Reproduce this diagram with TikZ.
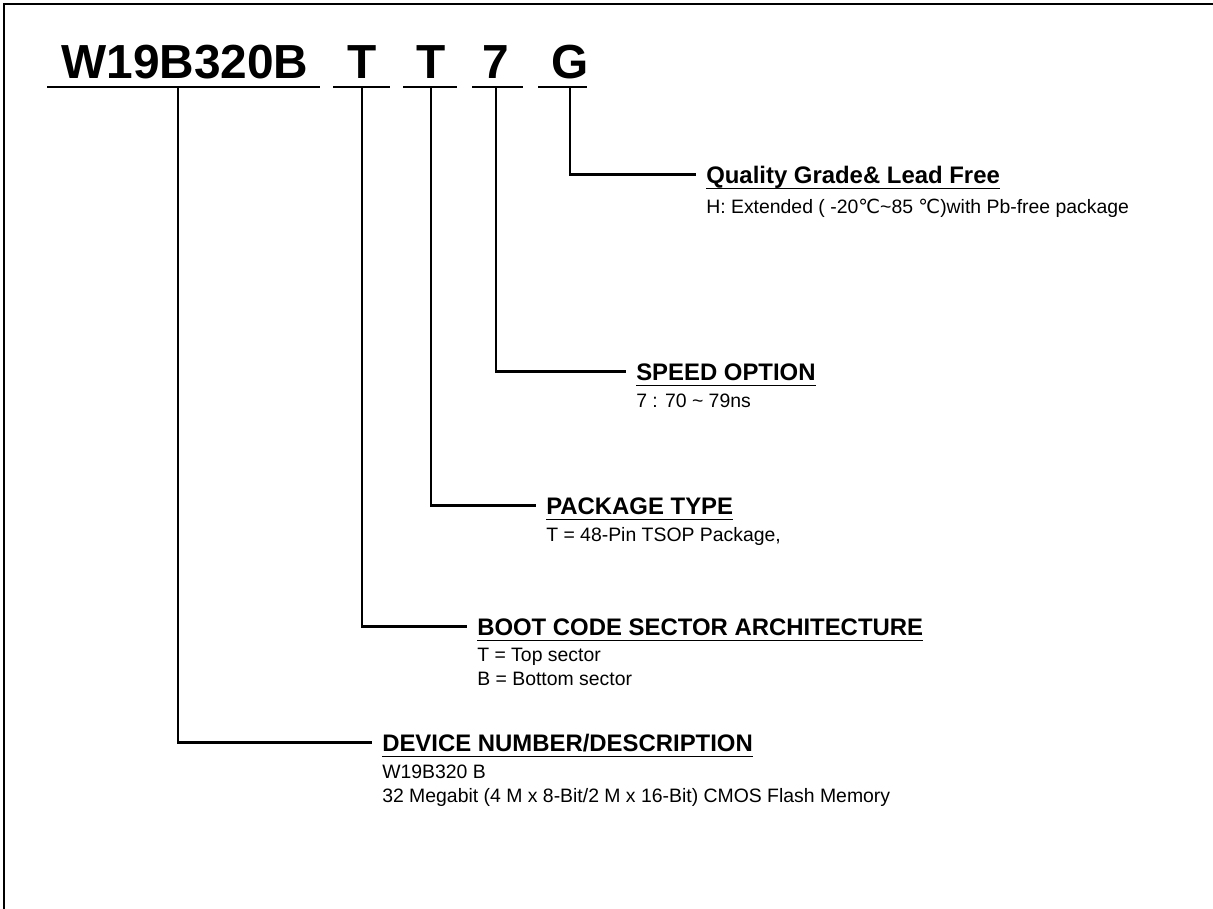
\documentclass[tikz,border=0pt]{standalone}
\usepackage{fontspec}
\setmainfont{Liberation Sans}
\newfontfamily\symfont{DejaVu Sans}
\tikzset{
  partchar/.style={font=\fontsize{34}{40}\selectfont\bfseries, anchor=base, text depth=0pt, inner xsep=0pt, inner ysep=0.225cm},
  fieldtitle/.style={font=\fontsize{17}{20}\selectfont\bfseries, anchor=base west, text depth=0pt, inner xsep=0pt, inner ysep=0.125cm},
  fielddesc/.style={font=\fontsize{13.8}{17.07}\selectfont, anchor=base west, align=left, inner sep=0pt},
  conn/.style={line width=1.8pt, line join=miter},
  uline/.style={line width=0.9pt},
}
\begin{document}
\begin{tikzpicture}[x=0.025cm, y=-0.025cm]
				\useasboundingbox (0,0) rectangle (1213,909);
				\draw[line width=1.8pt] (4,909) -- (4,4) -- (1213,4);
				% part number
				\node[partchar] (cW) at (185,78) {W19B320B};
				\node[partchar] (cT1) at (362,78) {T};
				\node[partchar] (cT2) at (431,78) {T};
				\node[partchar] (cS) at (496,78) {7};
				\node[partchar] (cG) at (570,78) {G};
				\foreach \a/\b in {47/320,333/390,403/457,472/523,538/587}
					\draw[uline] (\a,87) -- (\b,87);
				% fields
				\node[fieldtitle] (qT) at (706,183) {Quality Grade\& Lead Free};
				\node[fieldtitle] (sT) at (636,380) {SPEED OPTION};
				\node[fieldtitle] (pT) at (546,514) {PACKAGE TYPE};
				\node[fieldtitle] (bT) at (477,635) {BOOT CODE SECTOR ARCHITECTURE};
				\node[fieldtitle] (dT) at (382,751) {DEVICE NUMBER/DESCRIPTION};
				\foreach \n in {qT,sT,pT,bT,dT}
					\draw[uline] (\n.south west) -- (\n.south east);
				% base of a two-line text is its last line
				\node[fielddesc] (qD) at (706,213) {H: Extended ( -20{\symfont ℃}\textasciitilde 85 {\symfont ℃})with Pb-free package};
				\node[fielddesc] (sD) at (636,407) {7 : 70 \textasciitilde{} 79ns};
				\node[fielddesc] (pD) at (546,541) {T = 48-Pin TSOP Package,};
				\node[fielddesc] (bD) at (477,685) {T = Top sector\\B = Bottom sector};
				\node[fielddesc] (dD) at (382,802) {W19B320 B\\32 Megabit (4 M x 8-Bit/2 M x 16-Bit) CMOS Flash Memory};
				% connectors
				\draw[conn] (cG.south) |- ([xshift=-0.25cm]qT.west);
				\draw[conn] (cS.south) |- ([xshift=-0.25cm]sT.west);
				\draw[conn] (cT2.south) |- ([xshift=-0.25cm]pT.west);
				\draw[conn] (cT1.south) |- ([xshift=-0.25cm]bT.west);
				\draw[conn] ([xshift=-0.175cm]cW.south) |- ([xshift=-0.25cm]dT.west);
			\end{tikzpicture}
\end{document}
